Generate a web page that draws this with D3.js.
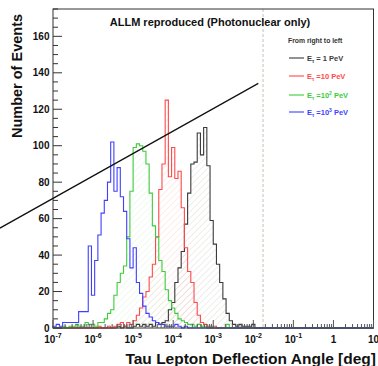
<!DOCTYPE html>
<html>
<head>
<meta charset="utf-8">
<script src="https://cdn.jsdelivr.net/npm/d3@7"></script>
<style>
  html, body { margin: 0; padding: 0; background: #fff; }
  svg { display: block; font-family: "Liberation Sans", Arial, sans-serif; font-weight: bold; }
</style>
</head>
<body>
<svg id="chart" width="378" height="366"></svg>
<script>
// Histogram binning: 100 log-spaced bins from 1e-7 to 10 deg
const binLogMin = -7;
const binLogMax = 1;
const binCount = 100;

// Event counts per bin, one array per tau energy
const counts1PeV = [
  0,0,0,0,0,0,0,0,0,0, 0,0,0,0,0,0,0,0,0,0,
  1,0,1,0,0,1,2,1,2,1, 2,1,3,2,3,4,10,14,25,33,
  42,57,74,90,91,107,95,110,89,59, 46,35,25,16,8,4,2,1,2,1,
  1,1,2,0,0,0,0,0,0,0, 0,0,0,0,0,0,0,0,0,0,
  0,0,0,0,0,0,0,0,0,0, 0,0,0,0,0,0,0,0,0,0
];
const counts10PeV = [
  0,0,0,0,0,0,0,0,0,0, 0,0,0,0,1,0,0,1,0,1,
  2,3,1,3,2,4,7,11,17,20, 28,35,50,76,90,125,83,99,82,86,
  66,44,31,25,14,7,3,2,1,0, 1,0,0,0,0,0,0,0,0,0,
  0,0,0,0,0,0,0,0,0,0, 0,0,0,0,0,0,0,0,0,0,
  0,0,0,0,0,0,0,0,0,0, 0,0,0,0,0,0,0,0,0,0
];
const counts100PeV = [
  0,0,0,1,0,1,1,2,1,1, 3,2,2,1,3,3,5,8,10,18,
  25,30,34,50,75,99,101,100,97,90, 74,56,50,37,31,21,15,11,8,5,
  4,3,2,2,1,2,1,1,0,1, 0,0,0,0,2,0,0,0,0,0,
  0,0,0,0,0,0,0,0,0,0, 0,0,0,0,0,0,0,0,0,0,
  0,0,0,0,0,0,0,0,0,0, 0,0,0,0,0,0,0,0,0,0
];
const counts1000PeV = [
  1,2,1,3,3,3,3,3,9,9, 9,45,18,37,51,63,70,80,102,75,
  88,72,64,49,33,44,25,19,12,8, 6,4,3,2,2,1,1,1,2,1,
  0,1,0,0,0,0,0,0,0,0, 0,0,0,0,0,0,0,0,0,0,
  0,0,0,0,0,0,0,0,0,0, 0,0,0,0,0,0,0,0,0,0,
  0,0,0,0,0,0,0,0,0,0, 0,0,0,0,0,0,0,0,0,0
];

// Axis settings
const xDomain = [1e-7, 10];
const xTickExponents = [-7, -6, -5, -4, -3, -2, -1, 0, 1];
const yDomain = [0, 175];
const yTickValues = [0, 20, 40, 60, 80, 100, 120, 140, 160];

// Legend entries (energy exponent in PeV)
const legendTitle = "From right to left";
const legendExponents = [0, 1, 2, 3];

// Reference angle marker and the straight guide line (data coordinates)
const referenceAngle = 0.0175;
const guideAngles = [Math.pow(10, -8.325), Math.pow(10, -1.875)];
const guideCounts = [54.8, 134.2];

const titleText = "ALLM reproduced (Photonuclear only)";
const xTitle = "Tau Lepton Deflection Angle [deg]";
const yTitle = "Number of Events";

// ---------------------------------------------------------------
const svg = d3.select("#chart");
const frame = { left: 53, right: 373.5, top: 9, bottom: 328 };

const x = d3.scaleLog().domain(xDomain).range([frame.left, frame.right]);
const y = d3.scaleLinear().domain(yDomain).range([frame.bottom, frame.top]);

const edges = d3.range(binCount + 1).map(i =>
  Math.pow(10, binLogMin + (binLogMax - binLogMin) * i / binCount));

const series = [
  { counts: counts1PeV,    stroke: "#3a3a3a", hatch: "#a8aaa0", fill: true },
  { counts: counts10PeV,   stroke: "#ff4a4a", hatch: "#ffa0a0", fill: true },
  { counts: counts100PeV,  stroke: "#3ccc3c", hatch: "#b0e8b0", fill: true },
  { counts: counts1000PeV, stroke: "#3f3fff", hatch: null,      fill: false }
];

// Hatch patterns
const defs = svg.append("defs");
series.forEach((s, i) => {
  if (!s.fill) return;
  const p = defs.append("pattern")
    .attr("id", "hatch" + i)
    .attr("patternUnits", "userSpaceOnUse")
    .attr("width", 4.5).attr("height", 4.5)
    .attr("patternTransform", "rotate(45)");
  p.append("line")
    .attr("x1", 0).attr("y1", 0).attr("x2", 0).attr("y2", 4.5)
    .attr("stroke", s.hatch).attr("stroke-width", 0.8).attr("opacity", 0.5);
});

function stepPoints(counts) {
  const pts = [{ e: edges[0], c: 0 }];
  counts.forEach((c, k) => pts.push({ e: edges[k], c }));
  pts.push({ e: edges[binCount], c: counts[binCount - 1] });
  pts.push({ e: edges[binCount], c: 0 });
  return pts;
}

const area = d3.area().curve(d3.curveStepAfter)
  .x(d => x(d.e)).y0(y(0)).y1(d => y(d.c));
const line = d3.line().curve(d3.curveStepAfter)
  .x(d => x(d.e)).y(d => y(d.c));

const hist = svg.append("g");
series.forEach((s, i) => {
  if (s.fill) {
    hist.append("path").datum(stepPoints(s.counts))
      .attr("d", area).attr("fill", `url(#hatch${i})`).attr("stroke", "none");
  }
});
series.forEach(s => {
  hist.append("path").datum(stepPoints(s.counts))
    .attr("d", line).attr("fill", "none")
    .attr("stroke", s.stroke).attr("stroke-width", 1.1);
});

// Reference angle (dashed vertical)
svg.append("line")
  .attr("x1", x(referenceAngle)).attr("x2", x(referenceAngle))
  .attr("y1", y(yDomain[1])).attr("y2", y(0))
  .attr("stroke", "#c9bfb2").attr("stroke-width", 1)
  .attr("stroke-dasharray", "3,2");

// Frame
svg.append("rect")
  .attr("x", frame.left).attr("y", frame.top)
  .attr("width", frame.right - frame.left).attr("height", frame.bottom - frame.top)
  .attr("fill", "none").attr("stroke", "#333").attr("stroke-width", 1);

// Y axis ticks (inside the frame)
const yAxis = svg.append("g").attr("stroke", "#333").attr("stroke-width", 1);
d3.range(0, yDomain[1] + 0.01, 5).forEach(v => {
  const major = v % 20 === 0;
  yAxis.append("line")
    .attr("x1", frame.left).attr("x2", frame.left + (major ? 9 : 5))
    .attr("y1", y(v)).attr("y2", y(v));
});
svg.append("g").selectAll("text").data(yTickValues).join("text")
  .attr("x", 49.5).attr("y", d => y(d)).attr("dy", "0.36em")
  .attr("text-anchor", "end").attr("font-size", 10).attr("fill", "#111")
  .text(d => d);

// X axis ticks (log, inside the frame)
const xAxis = svg.append("g").attr("stroke", "#555").attr("stroke-width", 1);
xTickExponents.forEach(e => {
  for (let m = 1; m <= 9; m++) {
    const v = m * Math.pow(10, e);
    if (v < xDomain[0] || v > xDomain[1]) continue;
    xAxis.append("line")
      .attr("x1", x(v)).attr("x2", x(v))
      .attr("y1", frame.bottom).attr("y2", frame.bottom - (m === 1 ? 8 : 4));
  }
});
const xLabels = svg.append("g").attr("font-size", 10).attr("fill", "#111");
xTickExponents.forEach(e => {
  const t = xLabels.append("text")
    .attr("x", x(Math.pow(10, e))).attr("y", 343)
    .attr("text-anchor", "middle");
  if (e === 0) { t.text("1"); return; }
  if (e === 1) { t.text("10"); return; }
  t.append("tspan").text("10");
  t.append("tspan").attr("dy", -5).attr("font-size", 7).text(String(e));
});

// Guide line
svg.append("line")
  .attr("x1", x(guideAngles[0])).attr("y1", y(guideCounts[0]))
  .attr("x2", x(guideAngles[1])).attr("y2", y(guideCounts[1]))
  .attr("stroke", "#111").attr("stroke-width", 1.2);

// Titles
svg.append("text")
  .attr("x", 210).attr("y", 25.5).attr("text-anchor", "middle")
  .attr("font-size", 11).attr("fill", "#111").text(titleText);

svg.append("text")
  .attr("x", 376).attr("y", 364).attr("text-anchor", "end")
  .attr("font-size", 15.5).attr("fill", "#111").text(xTitle);

svg.append("text")
  .attr("transform", "translate(22,76) rotate(-90)")
  .attr("text-anchor", "middle")
  .attr("font-size", 14.5).attr("fill", "#111").text(yTitle);

// Legend
const legend = svg.append("g").attr("font-size", 7.5);
legend.append("text").attr("x", 288).attr("y", 43)
  .attr("font-size", 6.8).attr("fill", "#333").text(legendTitle);

const legendRows = [58, 76, 95, 112];
legendExponents.forEach((p, i) => {
  const s = series[i];
  const yy = legendRows[i];
  legend.append("line")
    .attr("x1", 289).attr("x2", 304).attr("y1", yy).attr("y2", yy)
    .attr("stroke", s.stroke).attr("stroke-width", 1.1);
  const t = legend.append("text").attr("x", 307).attr("y", yy + 2.8).attr("fill", s.stroke);
  t.append("tspan").text("E");
  t.append("tspan").attr("dy", 2).attr("font-size", 5).text("\u03c4");
  if (p === 0) {
    t.append("tspan").attr("dy", -2).text(" = 1 PeV");
  } else if (p === 1) {
    t.append("tspan").attr("dy", -2).text(" =10 PeV");
  } else {
    t.append("tspan").attr("dy", -2).text(" =10");
    t.append("tspan").attr("dy", -3).attr("font-size", 5).text(String(p));
    t.append("tspan").attr("dy", 3).text(" PeV");
  }
});
</script>
</body>
</html>
